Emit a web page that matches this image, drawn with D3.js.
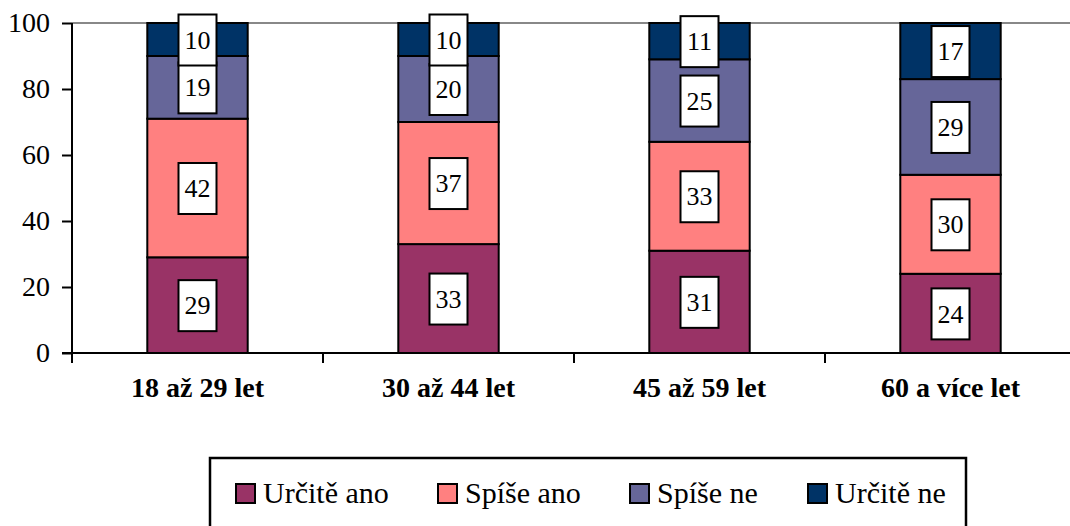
<!DOCTYPE html>
<html>
<head>
<meta charset="utf-8">
<script src="https://cdn.jsdelivr.net/npm/d3@7"></script>
</head>
<body style="margin:0">
<div id="chart"></div>
<script>
// data
var categories = ["18 až 29 let", "30 až 44 let", "45 až 59 let", "60 a více let"];
var seriesNames = ["Určitě ano", "Spíše ano", "Spíše ne", "Určitě ne"];
var urciteAno = [29, 33, 31, 24];
var spiseAno = [42, 37, 33, 30];
var spiseNe = [19, 20, 25, 29];
var urciteNe = [10, 10, 11, 17];
var yTicks = [0, 20, 40, 60, 80, 100];

var colors = ["#993366", "#FF8080", "#666699", "#003366"];
var serifFont = "'Liberation Serif'";

var W = 1070, H = 526;
var mLeft = 72, mTop = 23, plotH = 330, band = 251;

// table for d3.stack
var data = categories.map(function (c, i) {
  var row = { cat: c };
  row[seriesNames[0]] = urciteAno[i];
  row[seriesNames[1]] = spiseAno[i];
  row[seriesNames[2]] = spiseNe[i];
  row[seriesNames[3]] = urciteNe[i];
  return row;
});

var svg = d3.select("#chart").append("svg")
  .attr("width", W).attr("height", H)
  .style("font-family", serifFont);

var x = d3.scaleBand()
  .domain(categories)
  .range([mLeft, mLeft + band * categories.length])
  .paddingInner(0.6).paddingOuter(0.3);

var y = d3.scaleLinear().domain([0, 100]).range([mTop + plotH, mTop]);

// top gridline
svg.append("line")
  .attr("x1", mLeft).attr("x2", W)
  .attr("y1", y(100)).attr("y2", y(100))
  .attr("stroke", "#888").attr("stroke-width", 2);

var stacked = d3.stack().keys(seriesNames)(data);

var layers = svg.append("g").selectAll("g")
  .data(stacked).enter().append("g")
  .attr("fill", function (d, i) { return colors[i]; });

layers.selectAll("rect")
  .data(function (d) { return d; })
  .enter().append("rect")
  .attr("x", function (d) { return x(d.data.cat); })
  .attr("y", function (d) { return y(d[1]); })
  .attr("width", x.bandwidth())
  .attr("height", function (d) { return y(d[0]) - y(d[1]); })
  .attr("stroke", "#000").attr("stroke-width", 2);

// value labels in white boxes
var labels = svg.append("g").selectAll("g")
  .data(stacked).enter().append("g")
  .selectAll("g")
  .data(function (d) { return d; })
  .enter().append("g")
  .attr("transform", function (d) {
    return "translate(" + (x(d.data.cat) + x.bandwidth() / 2) + "," + y((d[0] + d[1]) / 2) + ")";
  });

labels.append("rect")
  .attr("x", -19).attr("y", -25).attr("width", 38).attr("height", 51)
  .attr("fill", "#fff").attr("stroke", "#000").attr("stroke-width", 2);

labels.append("text")
  .attr("text-anchor", "middle").attr("dy", "0.35em")
  .style("font-family", serifFont)
  .style("font-size", "26px")
  .text(function (d) { return d[1] - d[0]; });

// y axis
var yAxis = svg.append("g")
  .attr("transform", "translate(" + mLeft + ",0)")
  .call(d3.axisLeft(y).tickValues(yTicks).tickSize(10).tickPadding(12));
yAxis.attr("font-family", null);
yAxis.select(".domain").remove();
yAxis.selectAll(".tick line").attr("stroke", "#000").attr("stroke-width", 2);
yAxis.selectAll(".tick text")
  .attr("fill", "#000")
  .style("font-family", serifFont)
  .style("font-size", "28px");
svg.append("line")
  .attr("x1", mLeft).attr("x2", mLeft)
  .attr("y1", y(100)).attr("y2", y(0) + 10)
  .attr("stroke", "#000").attr("stroke-width", 2);

// x axis
svg.append("line")
  .attr("x1", mLeft - 10).attr("x2", W)
  .attr("y1", y(0)).attr("y2", y(0))
  .attr("stroke", "#000").attr("stroke-width", 2);
svg.append("g").selectAll("line")
  .data(categories.slice(1)).enter().append("line")
  .attr("x1", function (d) { return x(d) - x.step() * x.paddingInner() / 2; })
  .attr("x2", function (d) { return x(d) - x.step() * x.paddingInner() / 2; })
  .attr("y1", y(0)).attr("y2", y(0) + 10)
  .attr("stroke", "#000").attr("stroke-width", 2);

svg.append("g").selectAll("text")
  .data(categories).enter().append("text")
  .attr("x", function (d) { return x(d) + x.bandwidth() / 2; })
  .attr("y", y(0) + 44)
  .attr("text-anchor", "middle")
  .style("font-family", serifFont)
  .style("font-size", "28px").style("font-weight", "bold")
  .text(function (d) { return d; });

// legend
var legend = svg.append("g");
legend.append("rect")
  .attr("x", 210).attr("y", 458).attr("width", 756).attr("height", 90)
  .attr("fill", "#fff").attr("stroke", "#000").attr("stroke-width", 2.5);

var legendX = [236, 438, 630, 808];
var items = legend.selectAll("g")
  .data(seriesNames).enter().append("g")
  .attr("transform", function (d, i) { return "translate(" + legendX[i] + ",484)"; });
items.append("rect")
  .attr("width", 19).attr("height", 19)
  .attr("fill", function (d, i) { return colors[i]; })
  .attr("stroke", "#000").attr("stroke-width", 2);
items.append("text")
  .attr("x", 27).attr("y", 19)
  .style("font-family", serifFont)
  .style("font-size", "30px")
  .text(function (d) { return d; });
</script>
</body>
</html>
